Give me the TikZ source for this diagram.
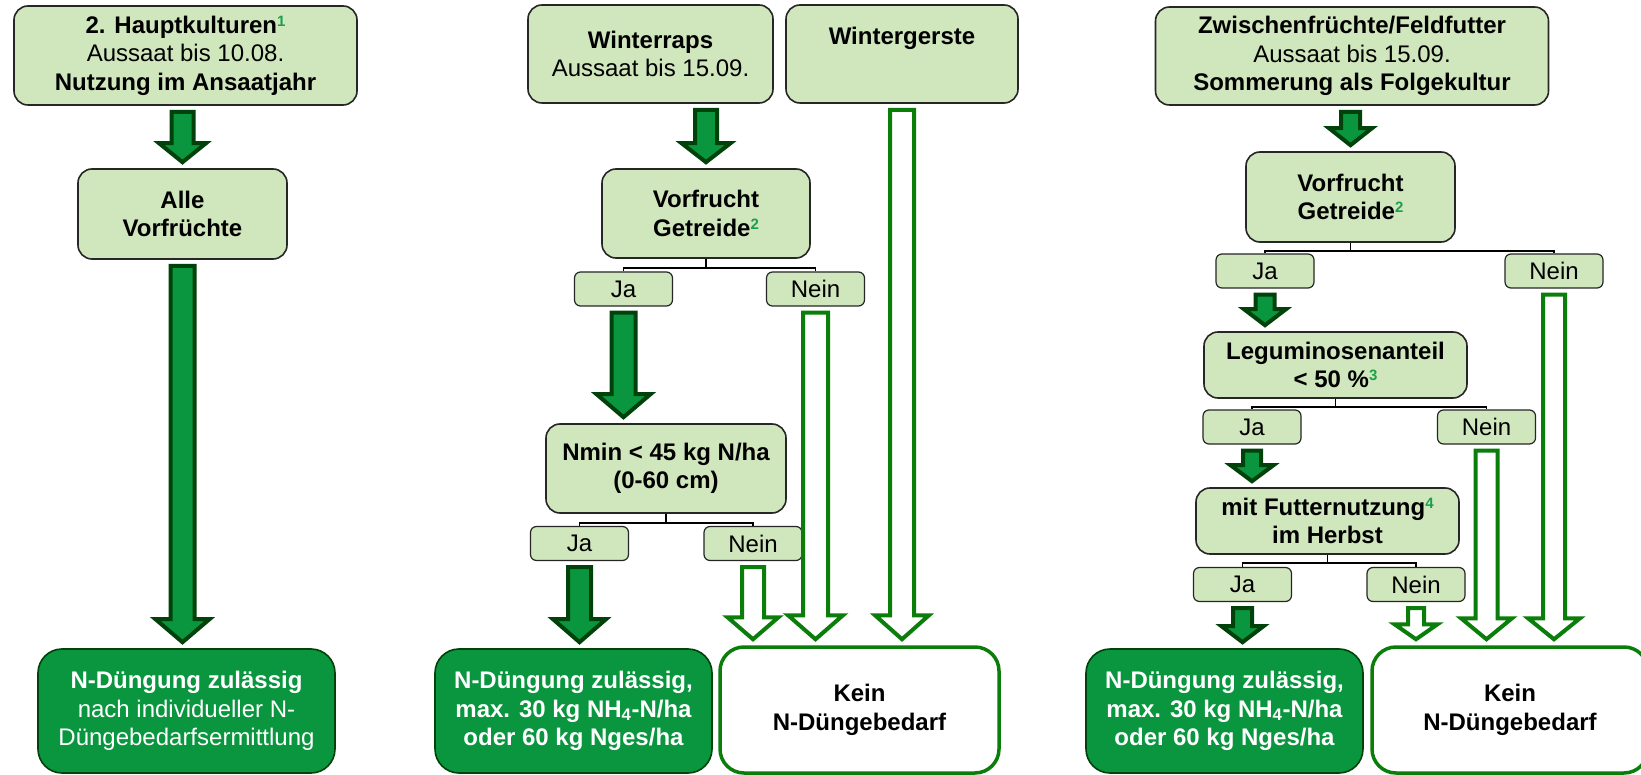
\documentclass[tikz,border=0pt]{standalone}
\usepackage{fontspec}
\setmainfont{Liberation Sans}
\usetikzlibrary{calc}

\definecolor{boxlight}{RGB}{208,230,188}
\definecolor{boxdark}{RGB}{9,150,62}
\definecolor{arrowrim}{RGB}{0,66,10}
\definecolor{rimgreen}{RGB}{10,125,10}
\definecolor{notegreen}{RGB}{25,160,75}

% footnote mark in green
\newcommand{\fnote}[1]{\raisebox{7pt}{\fontsize{15}{15}\selectfont\bfseries\color{notegreen}#1}}
% block arrow: style, start, end, shaft width, head width, head length
\newcommand{\blockarrow}[6]{%
  \draw[#1] let \p1=(#2), \p2=(#3) in
    (\x1-#4/2,\y1-6pt) -- (\x1+#4/2,\y1-6pt) -- (\x1+#4/2,\y2+6pt+#6) -- (\x1+#5/2,\y2+6pt+#6)
    -- (\x1,\y2+6pt) -- (\x1-#5/2,\y2+6pt+#6) -- (\x1-#4/2,\y2+6pt+#6) -- cycle;}

\tikzset{every picture/.style={line width=0.75pt},
  askbox/.style={align=center, inner sep=0pt, draw=black!85, line width=1.6pt, fill=boxlight,
    rounded corners=14pt, font=\fontsize{24}{28.5}\selectfont\bfseries},
  pickbox/.style={align=center, inner sep=0pt, draw=black!85, line width=1.2pt, fill=boxlight,
    rounded corners=6pt, minimum width=98pt, minimum height=34pt, font=\fontsize{24}{28.5}\selectfont},
  yesbox/.style={align=center, inner sep=0pt, draw=arrowrim, line width=1.6pt, fill=boxdark, text=white,
    rounded corners=24pt, font=\fontsize{24}{28.5}\selectfont\bfseries},
  nobox/.style={align=center, inner sep=0pt, draw=rimgreen, line width=3.5pt, fill=white,
    rounded corners=24pt, font=\fontsize{24}{28.5}\selectfont\bfseries},
  fullarrow/.style={fill=boxdark, draw=arrowrim, line width=4pt, line join=miter},
  hollowarrow/.style={fill=white, draw=rimgreen, line width=4pt, line join=miter},
  branch/.style={draw=black, line width=1.5pt},
}

\begin{document}
\begin{tikzpicture}[x=1pt,y=-1pt]
\path[use as bounding box, fill=white] (0,0) rectangle (1641,775);

%Column: 2. Hauptkulturen
\node[askbox, minimum width=343pt, minimum height=99pt] (hk) at (185.5,55.5)
  {2. Hauptkulturen\fnote{1}\\\textmd{Aussaat bis 10.08.}\\Nutzung im Ansaatjahr};
\node[askbox, minimum width=209pt, minimum height=90pt] (alle) at (182.5,214) {Alle\\Vorfrüchte};
\node[yesbox, minimum width=297pt, minimum height=124pt] (ndue1) at (186.5,711)
  {N-Düngung zulässig\\\textmd{nach individueller N-}\\\textmd{Düngebedarfsermittlung}};

\blockarrow{fullarrow}{hk.south -| alle.north}{alle.north}{22pt}{47pt}{19pt}
\blockarrow{fullarrow}{alle.south}{ndue1.north}{24pt}{54pt}{23pt}

%Column: Winterraps / Wintergerste
\node[askbox, minimum width=245pt, minimum height=98pt] (wr) at (650.5,54) {Winterraps\\\textmd{Aussaat bis 15.09.}};
\node[askbox, minimum width=232pt, minimum height=98pt] (wg) at (902,54) {Wintergerste\\\strut};
\node[askbox, minimum width=208pt, minimum height=89pt] (vf2) at (706,213.5) {Vorfrucht\\Getreide\fnote{2}};
\node[pickbox] (ja1) at (623.5,289) {Ja};
\node[pickbox] (nein1) at (815.5,289) {Nein};
\node[askbox, minimum width=240pt, minimum height=89pt] (nmin) at (666,468.5) {Nmin < 45 kg N/ha\\(0-60 cm)};
\node[pickbox] (ja2) at (579.5,543.5) {Ja};
\node[pickbox] (nein2) at (753,543.5) {Nein};
\node[yesbox, minimum width=277pt, minimum height=124pt] (ndue2) at (573.5,711)
  {N-Düngung zulässig,\\max. 30 kg NH\textsubscript{4}-N/ha\\oder 60 kg Nges/ha};
\node[nobox, minimum width=279pt, minimum height=126pt] (kein2) at (859.5,710) {Kein\\N-Düngebedarf};

\draw[branch] (vf2.south) -- ++(0,9) coordinate (vf2fork) -| (ja1.north);
\draw[branch] (vf2fork) -| (nein1.north);
\draw[branch] (nmin.south) -- ++(0,9) coordinate (nminfork) -| (ja2.north);
\draw[branch] (nminfork) -| (nein2.north);

\blockarrow{fullarrow}{wr.south -| vf2.north}{vf2.north}{22pt}{49pt}{19pt}
\blockarrow{fullarrow}{ja1.south}{nmin.north}{24pt}{54pt}{23pt}
\blockarrow{fullarrow}{ja2.south}{ndue2.north}{23pt}{53pt}{23pt}
\blockarrow{hollowarrow}{nein1.south}{kein2.north}{25pt}{55pt}{24pt}
\blockarrow{hollowarrow}{wg.south}{kein2.north}{24pt}{54pt}{24pt}
\blockarrow{hollowarrow}{nein2.south}{kein2.north}{22pt}{51pt}{22pt}

%Column: Zwischenfruechte / Feldfutter
\node[askbox, minimum width=393pt, minimum height=98pt] (zw) at (1352,56)
  {Zwischenfrüchte/Feldfutter\\\textmd{Aussaat bis 15.09.}\\Sommerung als Folgekultur};
\node[askbox, minimum width=209pt, minimum height=90pt] (vf3) at (1350.5,197) {Vorfrucht\\Getreide\fnote{2}};
\node[pickbox] (ja3) at (1265,271) {Ja};
\node[pickbox] (nein3) at (1554,271) {Nein};
\node[askbox, minimum width=263pt, minimum height=66pt] (legum) at (1335.5,365) {Leguminosenanteil\\< 50 \%\fnote{3}};
\node[pickbox] (ja4) at (1252,427) {Ja};
\node[pickbox] (nein4) at (1486.5,427) {Nein};
\node[askbox, minimum width=263pt, minimum height=66pt] (futter) at (1327.5,521) {mit Futternutzung\fnote{4}\\im Herbst};
\node[pickbox] (ja5) at (1242.5,584.5) {Ja};
\node[pickbox] (nein5) at (1416,584.5) {Nein};
\node[yesbox, minimum width=277pt, minimum height=124pt] (ndue3) at (1224.5,711)
  {N-Düngung zulässig,\\max. 30 kg NH\textsubscript{4}-N/ha\\oder 60 kg Nges/ha};
\node[nobox, minimum width=276pt, minimum height=126pt] (kein3) at (1510,710) {Kein\\N-Düngebedarf};

\draw[branch] (vf3.south) -- ++(0,8) coordinate (vf3fork) -| (ja3.north);
\draw[branch] (vf3fork) -| (nein3.north);
\draw[branch] (legum.south) -- ++(0,8) coordinate (legumfork) -| (ja4.north);
\draw[branch] (legumfork) -| (nein4.north);
\draw[branch] (futter.south) -- ++(0,8) coordinate (futterfork) -| (ja5.north);
\draw[branch] (futterfork) -| (nein5.north);

\blockarrow{fullarrow}{zw.south -| vf3.north}{vf3.north}{19pt}{43pt}{17pt}
\blockarrow{fullarrow}{ja3.south}{legum.north}{19pt}{42pt}{16pt}
\blockarrow{fullarrow}{ja4.south}{futter.north}{18pt}{43pt}{16pt}
\blockarrow{fullarrow}{ja5.south}{ndue3.north}{19pt}{42pt}{16pt}
\blockarrow{hollowarrow}{nein3.south}{kein3.north}{22pt}{52pt}{21pt}
\blockarrow{hollowarrow}{nein4.south}{kein3.north}{22pt}{51pt}{21pt}
\blockarrow{hollowarrow}{nein5.south}{kein3.north}{16pt}{43pt}{15pt}

\end{tikzpicture}
\end{document}
